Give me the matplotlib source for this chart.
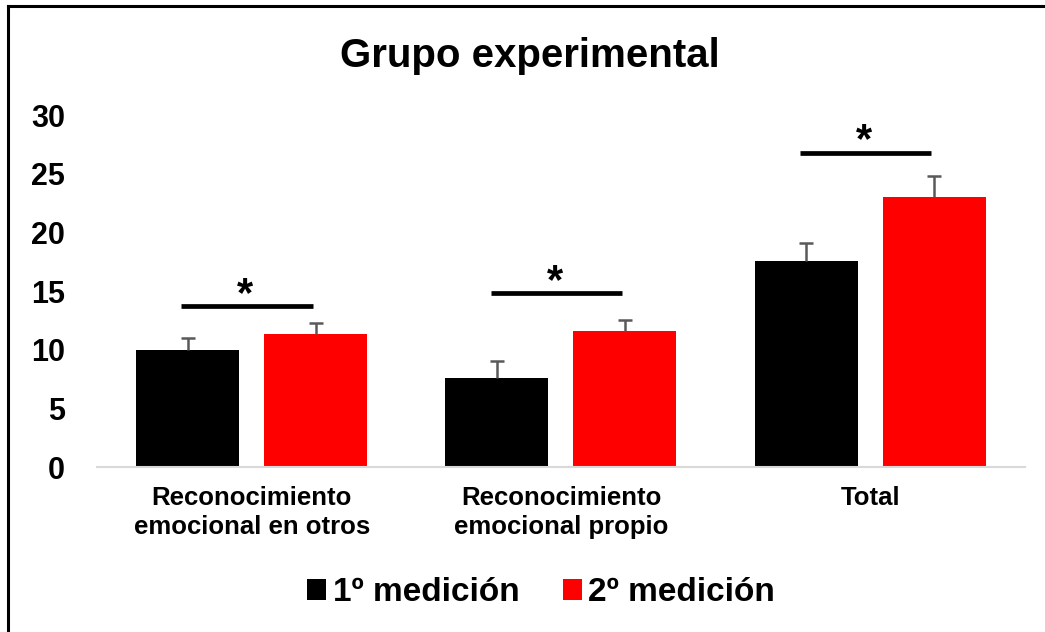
import matplotlib
matplotlib.use("Agg")
import matplotlib.pyplot as plt
from matplotlib.patches import Patch
from matplotlib.lines import Line2D
import numpy as np

plt.rcParams["font.family"] = ["Liberation Sans", "DejaVu Sans"]
plt.rcParams["font.weight"] = "bold"

# ── data ───────────────────────────────────────────────────────────────────────
categories = ["Reconocimiento\nemocional en otros",
              "Reconocimiento\nemocional propio",
              "Total"]
series = ["1º medición", "2º medición"]
med1 = [10.0, 7.6, 17.6]
med2 = [11.3, 11.6, 23.0]
err1 = [1.0, 1.4, 1.5]
err2 = [1.0, 0.9, 1.8]
sig_y = [13.7, 14.8, 26.8]
y_ticks = [0, 5, 10, 15, 20, 25, 30]

BLACK = "#000000"
RED = "#ff0000"
ERR_CLR = "#595959"
AXIS_CLR = "#d9d9d9"

fig = plt.figure(figsize=(10.45, 6.32), dpi=100)
ax = fig.add_axes([0.0928, 0.261, 0.888, 0.557])

x = np.arange(len(categories))
w = 0.333
off = 0.207
err_kw = dict(ecolor=ERR_CLR, elinewidth=1.8, capsize=5, capthick=1.8)
b1 = ax.bar(x - off, med1, w, color=BLACK, yerr=[[0] * 3, err1], error_kw=err_kw)
b2 = ax.bar(x + off, med2, w, color=RED, yerr=[[0] * 3, err2], error_kw=err_kw)
# plus-only error bars: hide the cap sitting on the bar top
for b in (b1, b2):
    caps = b.errorbar.lines[1]
    caps[0].set_visible(False)

# significance bars
for xi, yi in zip(x, sig_y):
    ax.plot([xi - 0.227, xi + 0.197], [yi, yi], color=BLACK, lw=3.4,
            solid_capstyle="butt")
    ax.text(xi - 0.02, yi - 0.75, "*", ha="center", va="bottom",
            fontsize=30, fontweight="bold")

ax.set_xlim(-0.5, 2.5)
ax.set_ylim(0, 30)
ax.set_yticks(y_ticks)
ax.set_xticks(x)
ax.set_xticklabels(categories, fontsize=18.5, fontweight="bold",
                   linespacing=1.25)
ax.tick_params(axis="y", length=0, pad=23, labelsize=22)
ax.tick_params(axis="x", length=0, pad=14)
for s in ["top", "right", "left"]:
    ax.spines[s].set_visible(False)
ax.spines["bottom"].set_color(AXIS_CLR)
ax.spines["bottom"].set_linewidth(1.5)

fig.text(0.507, 0.894, "Grupo experimental", ha="center", va="baseline",
         fontsize=29, fontweight="bold")

handles = [Patch(facecolor=BLACK), Patch(facecolor=RED)]
fig.legend(handles, series, loc="center", bbox_to_anchor=(0.518, 0.062),
           ncol=2, frameon=False, fontsize=24, handlelength=0.57,
           handleheight=0.57, handletextpad=0.2, columnspacing=1.28)

# cropped frame: only left and top edges visible
fig.add_artist(Line2D([0.0077, 0.0077], [0, 0.990], color=BLACK, lw=2.2,
                      transform=fig.transFigure))
fig.add_artist(Line2D([0.0077, 1.0], [0.990, 0.990], color=BLACK, lw=2.2,
                      transform=fig.transFigure))

fig.savefig("out.png", dpi=100, facecolor="white")
